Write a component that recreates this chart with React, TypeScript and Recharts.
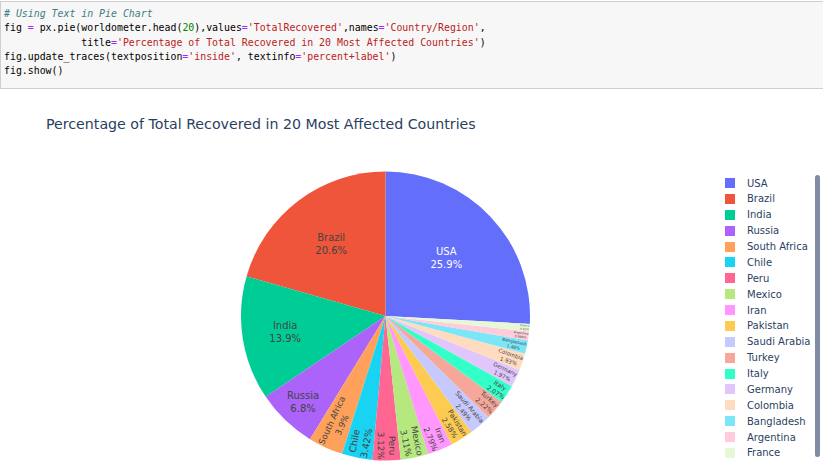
import React from 'react';
import { PieChart, Pie, Cell, Legend } from 'recharts';

// top 20 by cases; Spain and UK have no recovered figure, so 18 slices
const countries = [
  'USA', 'Brazil', 'India', 'Russia', 'South Africa', 'Chile', 'Peru', 'Mexico', 'Iran',
  'Pakistan', 'Saudi Arabia', 'Turkey', 'Italy', 'Germany', 'Colombia', 'Bangladesh',
  'Argentina', 'France',
];
const totalRecovered = [
  2587000, 2058000, 1387000, 679700, 389700, 341800, 311800, 310600, 278600,
  257600, 248600, 221600, 206600, 196600, 192600, 147600, 99600, 85000,
];
// plotly colorway, then the same colours lightened for the second round
const colors = [
  '#636EFA', '#EF553B', '#00CC96', '#AB63FA', '#FFA15A', '#19D3F3', '#FF6692', '#B6E880',
  '#FF97FF', '#FECB52', '#C6C9FD', '#F7A799', '#33FFC9', '#E0C6FD', '#FFDBC0', '#7AE6F8',
  '#FFCCDB', '#E8F8D6',
];

const data = countries.map((country, i) => ({ country, value: totalRecovered[i] }));
const total = totalRecovered.reduce((a, b) => a + b, 0);
const startAngle = 90 - (360 * totalRecovered[0]) / total;

const FONT = '"DejaVu Sans", Verdana, sans-serif';
const FS = 10;
const LINE = 1.3;
const PAD = 2.5;
const TITLE_COLOR = '#2a3f5f';

const ctx = document.createElement('canvas').getContext('2d');
const measure = (s: string) => {
  if (!ctx) return s.length * FS * 0.6;
  ctx.font = `${FS}px ${FONT}`;
  return ctx.measureText(s).width;
};

const fmtPct = (p: number) => {
  let t = (p * 100).toPrecision(3);
  if (t.indexOf('.') !== -1) t = t.replace(/[.]?0+$/, '');
  return t + '%';
};

const isDark = (hex: string) => {
  const r = parseInt(hex.slice(1, 3), 16);
  const g = parseInt(hex.slice(3, 5), 16);
  const b = parseInt(hex.slice(5, 7), 16);
  return (r * 299 + g * 587 + b * 114) / 1000 < 128;
};

const calcRotate = (t: number) => ((t + 720) % 180) - 90;
const maxHalfSize = (a: number, half: number, r: number) => {
  const q = a + 1 / (2 * Math.tan(half));
  return r * Math.min(1 / (Math.sqrt(q * q + 0.5) + q), 1 / (Math.sqrt(a * a + 0.5) + a));
};

// inside text placed the way plotly does it: horizontal, radial or tangential
const renderLabel = (props: any) => {
  const { cx, cy, midAngle, outerRadius, percent, index } = props;
  const r = outerRadius;
  const lines = [countries[index], fmtPct(percent)];
  const w = Math.max(...lines.map(measure));
  const h = FS * (1.2 + LINE);
  const half = Math.PI * Math.min(percent, 0.5);
  const rIns = Math.min(1 / (1 + 1 / Math.sin(half)), 0.5);
  const phi = (((90 - midAngle) % 360) + 360) % 360;

  let best = { scale: (rIns * r * 2) / Math.hypot(w, h), rc: 1 - rIns, rotate: 0 };
  if (best.scale < 1) {
    const rr = Math.max(0, r - 2 * PAD);
    const aR = w / h;
    const sR = maxHalfSize(aR, half, rr);
    const radT = { scale: (2 * sR) / h, rc: Math.cos(sR / rr) - (aR * sR) / rr, rotate: calcRotate(phi) };
    const aT = h / w;
    const sT = maxHalfSize(aT, half, rr);
    const tanT = { scale: (2 * sT) / w, rc: Math.cos(sT / rr) - (aT * sT) / rr, rotate: calcRotate(phi + 90) };
    [radT, tanT].forEach((t) => {
      if (t.scale > best.scale) best = t;
    });
  }
  const s = Math.min(1, best.scale);
  const rad = (midAngle * Math.PI) / 180;
  const x = cx + r * best.rc * Math.cos(rad);
  const y = cy - r * best.rc * Math.sin(rad);
  const fill = isDark(colors[index]) ? '#fff' : '#444';

  return (
    <g transform={`translate(${x},${y}) rotate(${best.rotate}) scale(${s})`}>
      {lines.map((t, i) => (
        <text
          key={i}
          x={0}
          y={(i - 0.5) * FS * LINE}
          textAnchor="middle"
          dominantBaseline="central"
          fontFamily={FONT}
          fontSize={FS}
          fill={fill}
        >
          {t}
        </text>
      ))}
    </g>
  );
};

// legend keeps the trace order (plotly does not sort it by name)
const renderLegend = () => (
  <div style={{ position: 'relative', width: 98, height: 290, fontFamily: FONT }}>
    {countries.map((c, i) => (
      <div
        key={c}
        style={{ position: 'absolute', left: 0, top: i * 15.88, height: 16, display: 'flex', alignItems: 'center' }}
      >
        <span style={{ display: 'inline-block', width: 10, height: 10, background: colors[i] }} />
        <span style={{ marginLeft: 12, fontSize: 10, color: TITLE_COLOR, whiteSpace: 'nowrap' }}>{c}</span>
      </div>
    ))}
    <div
      style={{ position: 'absolute', left: 90, top: 0, width: 4.5, height: 282, background: '#808BA4', borderRadius: 2.5 }}
    />
  </div>
);

const mono = '"DejaVu Sans Mono", "Liberation Mono", monospace';
const C = { comment: '#408080', op: '#AA22FF', str: '#BA2121', num: '#008800' };

function CodeCell() {
  return (
    <div
      style={{
        position: 'absolute',
        left: 0,
        top: 1,
        width: 820,
        height: 81,
        background: '#F7F7F7',
        border: '1px solid #CFCFCF',
        fontFamily: mono,
        fontSize: 9.9,
        lineHeight: '14.25px',
        color: '#000',
        whiteSpace: 'pre',
        padding: '5px 0 0 3px',
        boxSizing: 'content-box',
      }}
    >
      <div style={{ color: C.comment, fontStyle: 'italic' }}># Using Text in Pie Chart</div>
      <div>
        {'fig '}
        <span style={{ color: C.op }}>=</span>
        {' px.pie(worldometer.head('}
        <span style={{ color: C.num }}>20</span>
        {'),values'}
        <span style={{ color: C.op }}>=</span>
        <span style={{ color: C.str }}>'TotalRecovered'</span>
        {',names'}
        <span style={{ color: C.op }}>=</span>
        <span style={{ color: C.str }}>'Country/Region'</span>
        {','}
      </div>
      <div>
        {'             title'}
        <span style={{ color: C.op }}>=</span>
        <span style={{ color: C.str }}>'Percentage of Total Recovered in 20 Most Affected Countries'</span>
        {')'}
      </div>
      <div>
        {'fig.update_traces(textposition'}
        <span style={{ color: C.op }}>=</span>
        <span style={{ color: C.str }}>'inside'</span>
        {', textinfo'}
        <span style={{ color: C.op }}>=</span>
        <span style={{ color: C.str }}>'percent+label'</span>
        {')'}
      </div>
      <div>fig.show()</div>
    </div>
  );
}

export default function App() {
  return (
    <div style={{ position: 'relative', width: 823, height: 464, background: '#fff', overflow: 'hidden' }}>
      <style>{'body{margin:0}'}</style>
      <PieChart
        width={823}
        height={464}
        margin={{ top: 0, right: 0, bottom: 0, left: 0 }}
        style={{ position: 'absolute', left: 0, top: 0 }}
      >
        <Pie
          data={data}
          dataKey="value"
          nameKey="country"
          cx={385.5}
          cy={316}
          outerRadius={144.5}
          startAngle={startAngle}
          endAngle={startAngle + 360}
          stroke="none"
          label={renderLabel}
          labelLine={false}
          isAnimationActive={false}
        >
          {data.map((d, i) => (
            <Cell key={d.country} fill={colors[i]} />
          ))}
        </Pie>
        <Legend
          content={renderLegend}
          wrapperStyle={{ position: 'absolute', left: 725, top: 175, width: 98, height: 290 }}
        />
      </PieChart>
      <CodeCell />
      <div
        style={{
          position: 'absolute',
          left: 46,
          top: 116,
          fontFamily: FONT,
          fontSize: 14.2,
          color: TITLE_COLOR,
          whiteSpace: 'nowrap',
        }}
      >
        Percentage of Total Recovered in 20 Most Affected Countries
      </div>
    </div>
  );
}
